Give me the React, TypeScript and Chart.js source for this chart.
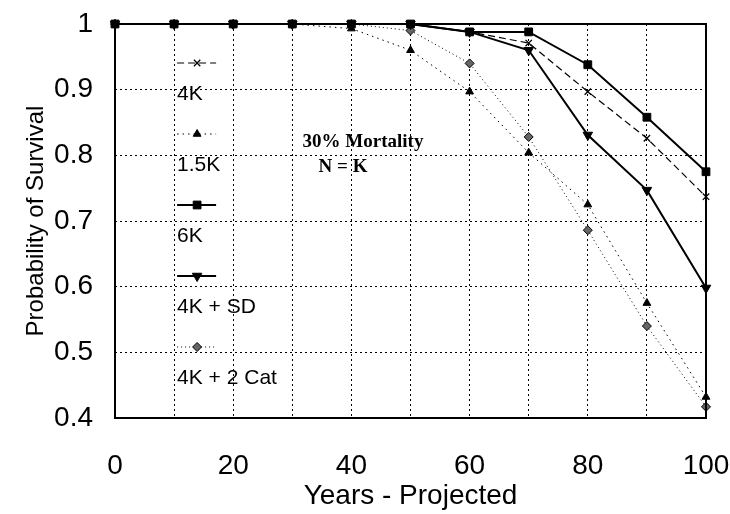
import React, { useEffect, useRef } from 'react';
import { Chart, registerables } from 'chart.js';
import { drawPoint } from 'chart.js/helpers';

Chart.register(...registerables);

// ---- data ----
const years = [0, 10, 20, 30, 40, 50, 60, 70, 80, 90, 100];
const s4K = [1, 1, 1, 1, 1, 1, 0.988, 0.971, 0.897, 0.826, 0.737];
const s15K = [1, 1, 1, 1, 0.993, 0.96, 0.897, 0.804, 0.725, 0.575, 0.432];
const s6K = [1, 1, 1, 1, 1, 1, 0.988, 0.988, 0.938, 0.858, 0.775];
const s4KSD = [1, 1, 1, 1, 1, 1, 0.988, 0.96, 0.831, 0.747, 0.598];
const s4K2Cat = [1, 1, 1, 1, 1, 0.99, 0.94, 0.828, 0.686, 0.54, 0.417];
const seriesNames = ['4K', '1.5K', '6K', '4K + SD', '4K + 2 Cat'];
const xTickLabels = [0, 20, 40, 60, 80, 100];
const yTickLabels = ['0.4', '0.5', '0.6', '0.7', '0.8', '0.9', '1'];
const yMin = 0.4;
const yMax = 1;
const yStep = 0.1;
const xStep = 10;
const annotationLines = ['30% Mortality', 'N = K'];
const xTitle = 'Years - Projected';
const yTitle = 'Probability of Survival';

const SANS = "'Liberation Sans', Arial, sans-serif";
const SERIF = "'Liberation Serif', 'Times New Roman', serif";

const toPts = (vals: number[]) => vals.map((v, i) => ({ x: years[i], y: v }));

const styles = [
  { borderWidth: 1.2, borderDash: [7, 4], pointStyle: 'crossRot', pointRadius: 4.5, pointBorderWidth: 1.3, bg: '#000', rotation: 0 },
  { borderWidth: 1, borderDash: [1.5, 4], pointStyle: 'triangle', pointRadius: 4.5, pointBorderWidth: 1, bg: '#000', rotation: 0 },
  { borderWidth: 2, borderDash: [], pointStyle: 'rect', pointRadius: 5.5, pointBorderWidth: 1, bg: '#000', rotation: 0 },
  { borderWidth: 2, borderDash: [], pointStyle: 'triangle', pointRadius: 5.5, pointBorderWidth: 1, bg: '#000', rotation: 180 },
  { borderWidth: 1, borderDash: [1, 3], pointStyle: 'rectRot', pointRadius: 4.5, pointBorderWidth: 1, bg: '#666', rotation: 0 },
];
const seriesValues = [s4K, s15K, s6K, s4KSD, s4K2Cat];

const customPlugin = {
  id: 'customDecor',
  afterDraw(chart: any) {
    const { ctx, chartArea } = chart;
    const { left, right, top, bottom } = chartArea;
    ctx.save();
    // frame
    ctx.strokeStyle = '#000';
    ctx.lineWidth = 2;
    ctx.setLineDash([]);
    ctx.strokeRect(left, top, right - left, bottom - top);

    // legend
    const xs = chart.scales.x;
    const lx = xs.getPixelForValue(10) + 3;
    const startY = 63;
    const rowGap = 71;
    chart.data.datasets.forEach((ds: any, i: number) => {
      const y = startY + i * rowGap;
      ctx.save();
      ctx.strokeStyle = '#000';
      ctx.lineWidth = ds.borderWidth;
      ctx.setLineDash(ds.borderDash || []);
      ctx.beginPath();
      ctx.moveTo(lx, y);
      ctx.lineTo(lx + 39, y);
      ctx.stroke();
      ctx.setLineDash([]);
      ctx.fillStyle = ds.pointBackgroundColor;
      ctx.strokeStyle = '#000';
      ctx.lineWidth = ds.pointBorderWidth;
      drawPoint(ctx, { pointStyle: ds.pointStyle, rotation: ds.pointRotation || 0, radius: ds.pointRadius, borderWidth: ds.pointBorderWidth }, lx + 20, y);
      ctx.restore();
      ctx.fillStyle = '#000';
      ctx.font = `21px ${SANS}`;
      ctx.textAlign = 'left';
      ctx.textBaseline = 'middle';
      ctx.fillText(ds.label, lx, y + 31);
    });

    // annotation
    ctx.fillStyle = '#000';
    ctx.font = `bold 19px ${SERIF}`;
    ctx.textAlign = 'center';
    ctx.textBaseline = 'middle';
    ctx.fillText(annotationLines[0], 363, 142);
    ctx.fillText(annotationLines[1], 343, 167);
    ctx.restore();
  },
};

export default function App() {
  const ref = useRef<HTMLCanvasElement | null>(null);
  useEffect(() => {
    document.body.style.margin = '0';
    if (!ref.current) return;
    const chart = new Chart(ref.current, {
      type: 'line',
      data: {
        datasets: seriesNames.map((name, i) => ({
          label: name,
          data: toPts(seriesValues[i]),
          borderColor: '#000',
          borderWidth: styles[i].borderWidth,
          borderDash: styles[i].borderDash,
          pointStyle: styles[i].pointStyle as any,
          pointRadius: styles[i].pointRadius,
          pointBorderWidth: styles[i].pointBorderWidth,
          pointBackgroundColor: styles[i].bg,
          pointBorderColor: '#000',
          pointRotation: styles[i].rotation,
          tension: 0,
          fill: false,
          clip: false as any,
        })),
      },
      options: {
        animation: false,
        responsive: false,
        maintainAspectRatio: false,
        layout: { padding: { top: 24, right: 24, left: 0, bottom: 0 } },
        plugins: { legend: { display: false }, tooltip: { enabled: false } },
        scales: {
          x: {
            type: 'linear',
            min: 0,
            max: 100,
            afterFit: (s: any) => { s.height = 96; s.paddingLeft = 0; s.paddingRight = 0; },
            ticks: {
              stepSize: xStep,
              color: '#000',
              font: { family: SANS, size: 28 },
              padding: 31,
              maxRotation: 0,
              autoSkip: false,
              callback: (v: any) => (xTickLabels.includes(Number(v)) ? String(v) : ''),
            },
            grid: { color: '#000', lineWidth: 1, drawTicks: false },
            border: { display: false, dash: [2, 3] },
            title: { display: true, text: xTitle, color: '#000', font: { family: SANS, size: 28 }, padding: { top: 0, bottom: 1 } },
          },
          y: {
            type: 'linear',
            min: yMin,
            max: yMax,
            afterFit: (s: any) => { s.width = 115; s.paddingTop = 0; s.paddingBottom = 0; },
            ticks: {
              stepSize: yStep,
              color: '#000',
              font: { family: SANS, size: 28 },
              padding: 22,
              callback: (v: any) => yTickLabels[Math.round((Number(v) - yMin) / yStep)] ?? '',
            },
            grid: { color: '#000', lineWidth: 1, drawTicks: false },
            border: { display: false, dash: [2, 3] },
            title: { display: true, text: yTitle, color: '#000', font: { family: SANS, size: 24 }, padding: { top: 22, bottom: 0 } },
          },
        },
      },
      plugins: [customPlugin],
    });
    return () => chart.destroy();
  }, []);
  return <canvas ref={ref} width={730} height={514} style={{ display: 'block', width: 730, height: 514 }} />;
}
